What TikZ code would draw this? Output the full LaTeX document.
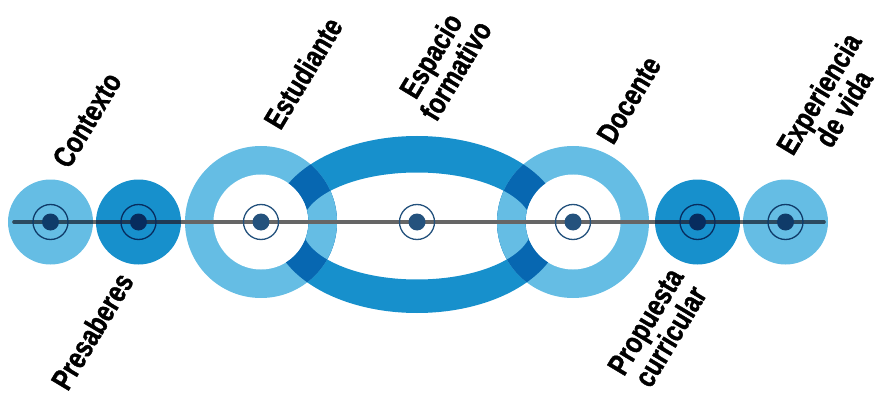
\documentclass[tikz,border=0pt]{standalone}
\usepackage{fontspec}
\newfontfamily\lab{Liberation Sans Bold}[FakeStretch=0.8,FakeBold=1.2]
\definecolor{lblue}{HTML}{65BDE4}
\definecolor{mblue}{HTML}{1790CC}
\definecolor{dblue}{HTML}{0767B1}
\definecolor{lgray}{HTML}{666666}
\definecolor{ldark}{HTML}{2B4A60}
\definecolor{mdark}{HTML}{1F3A55}
\definecolor{mkA}{HTML}{0F3B69}
\definecolor{mkB}{HTML}{072C5E}
\definecolor{mkC}{HTML}{24527D}
\tikzset{
  lbl/.style={rotate=59, font=\lab\fontsize{30}{29}\selectfont, align=center, inner sep=0pt, text=black},
}
\newcommand{\mymarker}[2]{%
  \draw[#2, line width=1.3pt] (#1) circle (17.5);
  \fill[#2] (#1) circle (8.5);
}
\begin{document}
\begin{tikzpicture}[x=1pt,y=-1pt]
\useasboundingbox (0,0) rectangle (889,393);
\coordinate (cA) at (50.5,222);
\coordinate (cB) at (138.5,222);
\coordinate (cE) at (261,222);
\coordinate (cM) at (417,222);
\coordinate (cD) at (573,222);
\coordinate (cP) at (697.5,222);
\coordinate (cX) at (785.5,222);
\coordinate (L) at (14,222);
\coordinate (R) at (824,222);
% small circles
\fill[lblue] (cA) circle (42.5);
\fill[mblue] (cB) circle (42.5);
\fill[mblue] (cP) circle (42.5);
\fill[lblue] (cX) circle (42.5);
% ellipse band
\fill[mblue, even odd rule] (417,224.5) ellipse [x radius=145, y radius=88.5]
  (417,226) ellipse [x radius=115, y radius=53.5];
% rings
\foreach \c in {cE,cD}{
  \fill[lblue] (\c) circle (76);
  \fill[white] (\c) circle (47.5);
  \begin{scope}
    \clip (417,224.5) ellipse [x radius=145, y radius=88.5];
    \fill[dblue, even odd rule] (\c) circle (76) (\c) circle (47.5);
    \clip (417,226) ellipse [x radius=115, y radius=53.5];
    \fill[lblue, even odd rule] (\c) circle (76) (\c) circle (47.5);
  \end{scope}
}
% main line
\draw[lgray, line width=3.4pt, line cap=round] (L) -- (R);
\begin{scope}
  \clip (cA) circle (42.5) (cX) circle (42.5);
  \draw[ldark, line width=3.4pt, line cap=round] (L) -- (R);
\end{scope}
\begin{scope}
  \clip (cB) circle (42.5) (cP) circle (42.5);
  \draw[mdark, line width=3.4pt] (L) -- (R);
\end{scope}
% markers
\mymarker{cA}{mkA}
\mymarker{cB}{mkB}
\mymarker{cE}{mkC}
\mymarker{cM}{mkC}
\mymarker{cD}{mkC}
\mymarker{cP}{mkB}
\mymarker{cX}{mkA}
% labels
\node[lbl] (tA) at (87,120) {Contexto};
\node[lbl] (tE) at (303,73) {Estudiante};
\node[lbl] (tM) at (443,63) {Espacio\\formativo};
\node[lbl] (tD) at (629,100) {Docente};
\node[lbl] (tX) at (831,101) {Experiencia\\de vida};
\node[lbl] (tB) at (92,331) {Presaberes};
\node[lbl] (tP) at (658,329) {Propuesta\\curricular};
\end{tikzpicture}
\end{document}
